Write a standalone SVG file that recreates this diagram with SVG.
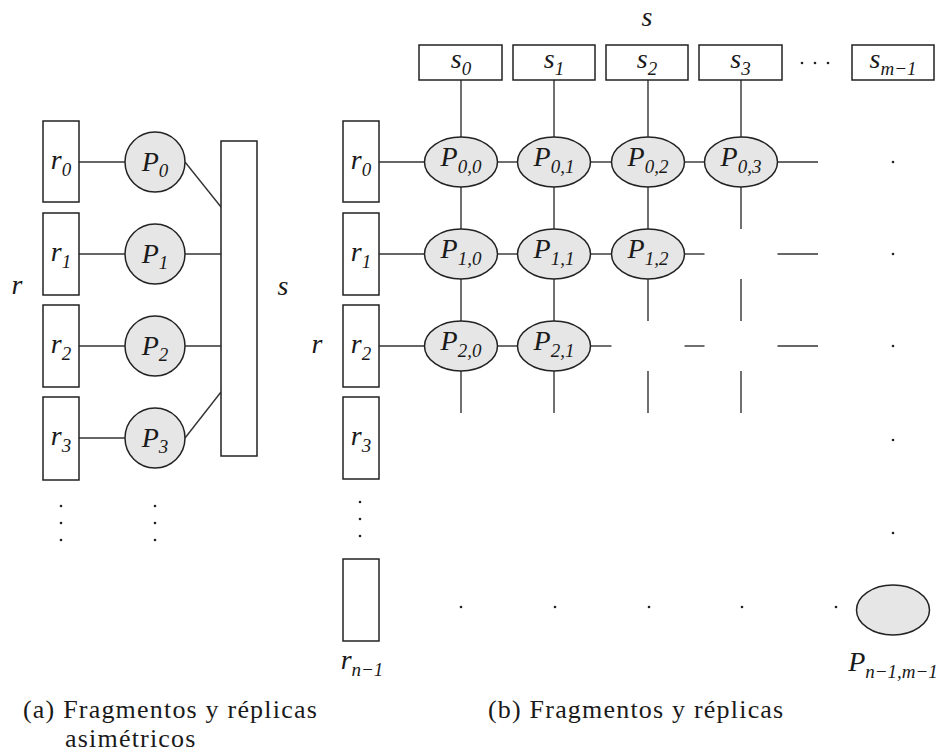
<svg xmlns="http://www.w3.org/2000/svg" width="939" height="756" viewBox="0 0 939 756">
<style>
.box{fill:#fff;stroke:#222;stroke-width:1.5}
.node{fill:#e6e6e6;stroke:#222;stroke-width:1.5}
.ln{stroke:#333;stroke-width:1.4;fill:none}
.dot{fill:#222}
text{font-family:"Liberation Serif","Times New Roman",serif;fill:#1a1a1a}
.lbl{font-style:italic;font-size:28px;text-anchor:middle}
.sub{font-size:19px}
.cap{font-size:26px;letter-spacing:1.2px}
</style>
<rect width="939" height="756" fill="#fff"/>

<!-- (a) left diagram -->
<g id="connectors-a">
<line class="ln" x1="79" y1="162" x2="125" y2="162"/>
<line class="ln" x1="79" y1="254" x2="125" y2="254"/>
<line class="ln" x1="79" y1="346" x2="125" y2="346"/>
<line class="ln" x1="79" y1="438" x2="125" y2="438"/>
<line class="ln" x1="185" y1="162" x2="221" y2="207"/>
<line class="ln" x1="185" y1="254" x2="221" y2="254"/>
<line class="ln" x1="185" y1="346" x2="221" y2="346"/>
<line class="ln" x1="185" y1="438" x2="221" y2="392"/>
</g>
<g id="a-r0"><rect class="box" x="43" y="121" width="36" height="81"/><text class="lbl" x="61" y="169">r<tspan class="sub" dy="7">0</tspan></text></g>
<g id="a-r1"><rect class="box" x="43" y="213" width="36" height="82"/><text class="lbl" x="61" y="261">r<tspan class="sub" dy="7">1</tspan></text></g>
<g id="a-r2"><rect class="box" x="43" y="305" width="36" height="82"/><text class="lbl" x="61" y="353">r<tspan class="sub" dy="7">2</tspan></text></g>
<g id="a-r3"><rect class="box" x="43" y="397" width="36" height="83"/><text class="lbl" x="61" y="445">r<tspan class="sub" dy="7">3</tspan></text></g>
<g id="a-p0"><circle class="node" cx="155" cy="162" r="30"/><text class="lbl" x="155" y="171">P<tspan class="sub" dy="6">0</tspan></text></g>
<g id="a-p1"><circle class="node" cx="155" cy="254" r="30"/><text class="lbl" x="155" y="263">P<tspan class="sub" dy="6">1</tspan></text></g>
<g id="a-p2"><circle class="node" cx="155" cy="346" r="30"/><text class="lbl" x="155" y="355">P<tspan class="sub" dy="6">2</tspan></text></g>
<g id="a-p3"><circle class="node" cx="155" cy="438" r="30"/><text class="lbl" x="155" y="447">P<tspan class="sub" dy="6">3</tspan></text></g>
<g id="a-s"><rect class="box" x="221" y="141" width="36" height="315"/></g>
<text class="lbl" x="17" y="294">r</text>
<text class="lbl" x="283" y="295">s</text>
<g id="a-dots">
<circle class="dot" cx="61" cy="506" r="1.3"/><circle class="dot" cx="61" cy="523" r="1.3"/><circle class="dot" cx="61" cy="540" r="1.3"/>
<circle class="dot" cx="155" cy="506" r="1.3"/><circle class="dot" cx="155" cy="523" r="1.3"/><circle class="dot" cx="155" cy="540" r="1.3"/>
</g>
<text class="cap" x="23" y="718">(a) Fragmentos y réplicas</text>
<text class="cap" x="65" y="747">asimétricos</text>

<!-- (b) right diagram -->
<g id="connectors-b">
<line class="ln" x1="461" y1="80" x2="461" y2="137"/>
<line class="ln" x1="554" y1="80" x2="554" y2="137"/>
<line class="ln" x1="648" y1="80" x2="648" y2="137"/>
<line class="ln" x1="741" y1="80" x2="741" y2="137"/>
<line class="ln" x1="379" y1="162" x2="424.5" y2="162"/>
<line class="ln" x1="497.5" y1="162" x2="517.5" y2="162"/>
<line class="ln" x1="590.5" y1="162" x2="611.5" y2="162"/>
<line class="ln" x1="684.5" y1="162" x2="704.5" y2="162"/>
<line class="ln" x1="777.5" y1="162" x2="818" y2="162"/>
<line class="ln" x1="379" y1="254" x2="424.5" y2="254"/>
<line class="ln" x1="497.5" y1="254" x2="517.5" y2="254"/>
<line class="ln" x1="590.5" y1="254" x2="611.5" y2="254"/>
<line class="ln" x1="684.5" y1="254" x2="704.5" y2="254"/>
<line class="ln" x1="777.5" y1="254" x2="818" y2="254"/>
<line class="ln" x1="379" y1="346" x2="424.5" y2="346"/>
<line class="ln" x1="497.5" y1="346" x2="517.5" y2="346"/>
<line class="ln" x1="590.5" y1="346" x2="611.5" y2="346"/>
<line class="ln" x1="684.5" y1="346" x2="704.5" y2="346"/>
<line class="ln" x1="777.5" y1="346" x2="818" y2="346"/>
<line class="ln" x1="461" y1="187" x2="461" y2="229"/>
<line class="ln" x1="461" y1="279" x2="461" y2="321"/>
<line class="ln" x1="461" y1="371" x2="461" y2="413"/>
<line class="ln" x1="554" y1="187" x2="554" y2="229"/>
<line class="ln" x1="554" y1="279" x2="554" y2="321"/>
<line class="ln" x1="554" y1="371" x2="554" y2="413"/>
<line class="ln" x1="648" y1="187" x2="648" y2="229"/>
<line class="ln" x1="648" y1="279" x2="648" y2="321"/>
<line class="ln" x1="648" y1="371" x2="648" y2="413"/>
<line class="ln" x1="741" y1="187" x2="741" y2="229"/>
<line class="ln" x1="741" y1="279" x2="741" y2="321"/>
<line class="ln" x1="741" y1="371" x2="741" y2="413"/>
</g>
<text class="lbl" x="647" y="26">s</text>
<g id="s0"><rect class="box" x="419" y="45" width="83" height="35"/><text class="lbl" x="461" y="68">s<tspan class="sub" dy="7">0</tspan></text></g>
<g id="s1"><rect class="box" x="513" y="45" width="82" height="35"/><text class="lbl" x="554" y="68">s<tspan class="sub" dy="7">1</tspan></text></g>
<g id="s2"><rect class="box" x="606" y="45" width="82" height="35"/><text class="lbl" x="647" y="68">s<tspan class="sub" dy="7">2</tspan></text></g>
<g id="s3"><rect class="box" x="699" y="45" width="83" height="35"/><text class="lbl" x="740.5" y="68">s<tspan class="sub" dy="7">3</tspan></text></g>
<g id="sm1"><rect class="box" x="852" y="45" width="82" height="35"/><text class="lbl" x="893" y="68">s<tspan class="sub" dy="7">m−1</tspan></text></g>
<g id="s-dots"><circle class="dot" cx="802" cy="63" r="1.3"/><circle class="dot" cx="815" cy="63" r="1.3"/><circle class="dot" cx="828" cy="63" r="1.3"/></g>

<text class="lbl" x="317" y="353">r</text>
<g id="r0"><rect class="box" x="343" y="121" width="36" height="81"/><text class="lbl" x="361" y="169">r<tspan class="sub" dy="7">0</tspan></text></g>
<g id="r1"><rect class="box" x="343" y="213" width="36" height="82"/><text class="lbl" x="361" y="261">r<tspan class="sub" dy="7">1</tspan></text></g>
<g id="r2"><rect class="box" x="343" y="305" width="36" height="82"/><text class="lbl" x="361" y="353">r<tspan class="sub" dy="7">2</tspan></text></g>
<g id="r3"><rect class="box" x="343" y="397" width="36" height="82"/><text class="lbl" x="361" y="445">r<tspan class="sub" dy="7">3</tspan></text></g>
<g id="rn1"><rect class="box" x="343" y="559" width="36" height="82"/><text class="lbl" x="362" y="669">r<tspan class="sub" dy="7">n−1</tspan></text></g>

<g id="p00"><ellipse class="node" cx="461" cy="162" rx="36.5" ry="25"/><text class="lbl" x="461" y="166">P<tspan class="sub" dy="7">0,0</tspan></text></g>
<g id="p01"><ellipse class="node" cx="554" cy="162" rx="36.5" ry="25"/><text class="lbl" x="554" y="166">P<tspan class="sub" dy="7">0,1</tspan></text></g>
<g id="p02"><ellipse class="node" cx="648" cy="162" rx="36.5" ry="25"/><text class="lbl" x="648" y="166">P<tspan class="sub" dy="7">0,2</tspan></text></g>
<g id="p03"><ellipse class="node" cx="741" cy="162" rx="36.5" ry="25"/><text class="lbl" x="741" y="166">P<tspan class="sub" dy="7">0,3</tspan></text></g>
<g id="p10"><ellipse class="node" cx="461" cy="254" rx="36.5" ry="25"/><text class="lbl" x="461" y="258">P<tspan class="sub" dy="7">1,0</tspan></text></g>
<g id="p11"><ellipse class="node" cx="554" cy="254" rx="36.5" ry="25"/><text class="lbl" x="554" y="258">P<tspan class="sub" dy="7">1,1</tspan></text></g>
<g id="p12"><ellipse class="node" cx="648" cy="254" rx="36.5" ry="25"/><text class="lbl" x="648" y="258">P<tspan class="sub" dy="7">1,2</tspan></text></g>
<g id="p20"><ellipse class="node" cx="461" cy="346" rx="36.5" ry="25"/><text class="lbl" x="461" y="350">P<tspan class="sub" dy="7">2,0</tspan></text></g>
<g id="p21"><ellipse class="node" cx="554" cy="346" rx="36.5" ry="25"/><text class="lbl" x="554" y="350">P<tspan class="sub" dy="7">2,1</tspan></text></g>
<g id="pnm"><ellipse class="node" cx="893" cy="610" rx="36.5" ry="25"/><text class="lbl" x="893" y="671">P<tspan class="sub" dy="7">n−1,m−1</tspan></text></g>

<g id="b-dots">
<circle class="dot" cx="893" cy="162" r="1.3"/><circle class="dot" cx="893" cy="254" r="1.3"/><circle class="dot" cx="893" cy="346" r="1.3"/><circle class="dot" cx="893" cy="440" r="1.3"/><circle class="dot" cx="893" cy="533" r="1.3"/>
<circle class="dot" cx="461" cy="607" r="1.3"/><circle class="dot" cx="555" cy="607" r="1.3"/><circle class="dot" cx="649" cy="607" r="1.3"/><circle class="dot" cx="742" cy="607" r="1.3"/><circle class="dot" cx="836" cy="607" r="1.3"/>
<circle class="dot" cx="360" cy="502" r="1.3"/><circle class="dot" cx="360" cy="519" r="1.3"/><circle class="dot" cx="360" cy="536" r="1.3"/>
</g>
<text class="cap" x="488" y="718">(b) Fragmentos y réplicas</text>
</svg>
